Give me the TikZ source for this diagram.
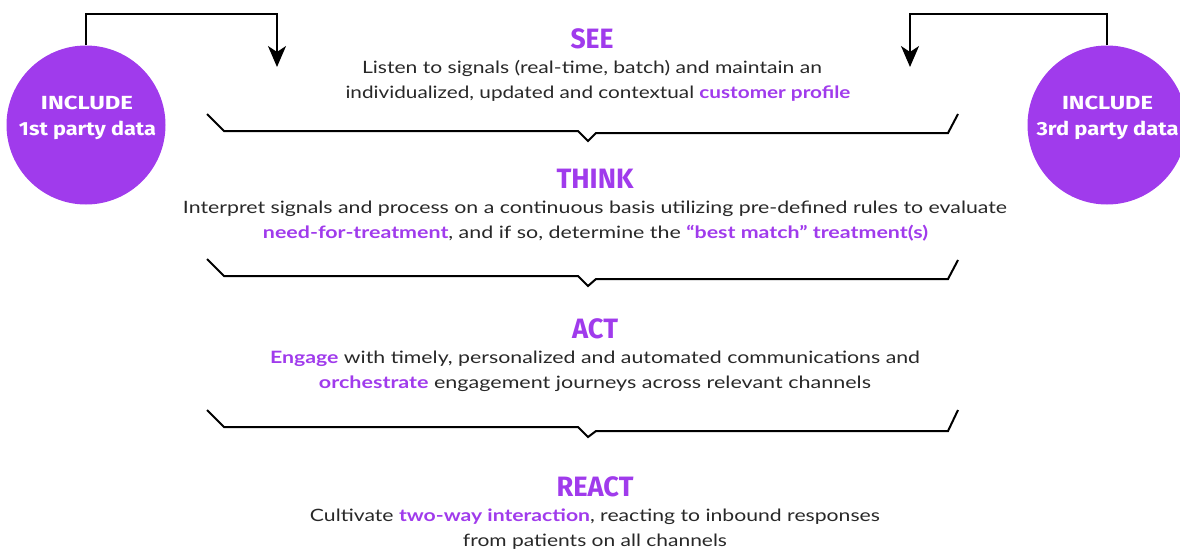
\documentclass[tikz,border=0pt]{standalone}
\usepackage{fontspec}
\usepackage{graphicx}
\setmainfont{Lato}
\newfontfamily\headfont{Fira Sans}
\usetikzlibrary{arrows.meta}
\definecolor{brand}{RGB}{160,59,236}
\definecolor{ink}{RGB}{40,40,40}
% stretch a line of text to a given width while keeping its height
\newcommand{\fitline}[2]{\resizebox{#1pt}{\height}{#2}}
\newcommand{\hl}[1]{\textcolor{brand}{\bfseries #1}}
\begin{document}
\begin{tikzpicture}[x=1pt,y=-1pt,
  bubble/.style={circle,fill=brand,minimum size=159pt,inner sep=0pt},
  bubbletext/.style={anchor=base,text=white,font=\headfont\fontsize{19}{19}\selectfont\bfseries,inner sep=0pt},
  heading/.style={anchor=base,inner sep=0pt,text=brand,font=\headfont\fontsize{28}{28}\selectfont\bfseries},
  body/.style={anchor=base,inner sep=0pt,text=ink,font=\fontsize{17}{17}\selectfont},
  feed/.style={line width=2pt,-{Stealth[length=21pt,width=18pt,inset=6pt]}},
  brace/.style={line width=2pt,line join=miter}]
\useasboundingbox (0,0) rectangle (1180,552);
\clip (0,0) rectangle (1180,552);

% data sources
\node[bubble] (src1) at (86,125) {};
\node[bubbletext] (src1a) at (87,109) {\fitline{92}{INCLUDE}};
\node[bubbletext] (src1b) at (87.5,135) {\fitline{137}{1st party data}};
\node[bubble] (src3) at (1107,125) {};
\node[bubbletext] (src3a) at (1107.5,109) {\fitline{91}{INCLUDE}};
\node[bubbletext] (src3b) at (1107.5,135) {\fitline{142}{3rd party data}};

\coordinate (in1) at (277,67);
\coordinate (in3) at (910,67);
\draw[feed] (src1.north) -- ++(0,-31) -| (in1);
\draw[feed] (src3.north) -- ++(0,-31) -| (in3);

% SEE
\node[heading] (seeh) at (592,48) {\fitline{43}{SEE}};
\node[body] (see1) at (592,73) {\fitline{460}{Listen to signals (real-time, batch) and maintain an}};
\node[body] (see2) at (598,98) {\fitline{505}{individualized, updated and contextual \hl{customer profile}}};

% THINK
\node[heading] (thinkh) at (595,188) {\fitline{77}{THINK}};
\node[body] (think1) at (595,213) {\fitline{824}{Interpret signals and process on a continuous basis utilizing pre-defined rules to evaluate}};
\node[body] (think2) at (595.5,238) {\fitline{665}{\hl{need-for-treatment}, and if so, determine the \hl{``best match'' treatment(s)}}};

% ACT
\node[heading] (acth) at (595,338) {\fitline{46}{ACT}};
\node[body] (act1) at (595,363) {\fitline{650}{\hl{Engage} with timely, personalized and automated communications and}};
\node[body] (act2) at (595,388) {\fitline{552}{\hl{orchestrate} engagement journeys across relevant channels}};

% REACT
\node[heading] (reacth) at (595,496) {\fitline{77}{REACT}};
\node[body] (react1) at (595,521) {\fitline{570}{Cultivate \hl{two-way interaction}, reacting to inbound responses}};
\node[body] (react2) at (595,546) {\fitline{264}{from patients on all channels}};

% braces between the stages
\draw[brace] (207,114) -- (224,131) -- (578,131) -- (588,141) -- (596,133) -- (948,133) -- (958,114);
\draw[brace] (207,259) -- (224,276) -- (578,276) -- (588,286) -- (596,279) -- (948,279) -- (958,260);
\draw[brace] (207,410) -- (224,427) -- (578,427) -- (588,437) -- (596,431) -- (948,431) -- (958,410);
\end{tikzpicture}
\end{document}
